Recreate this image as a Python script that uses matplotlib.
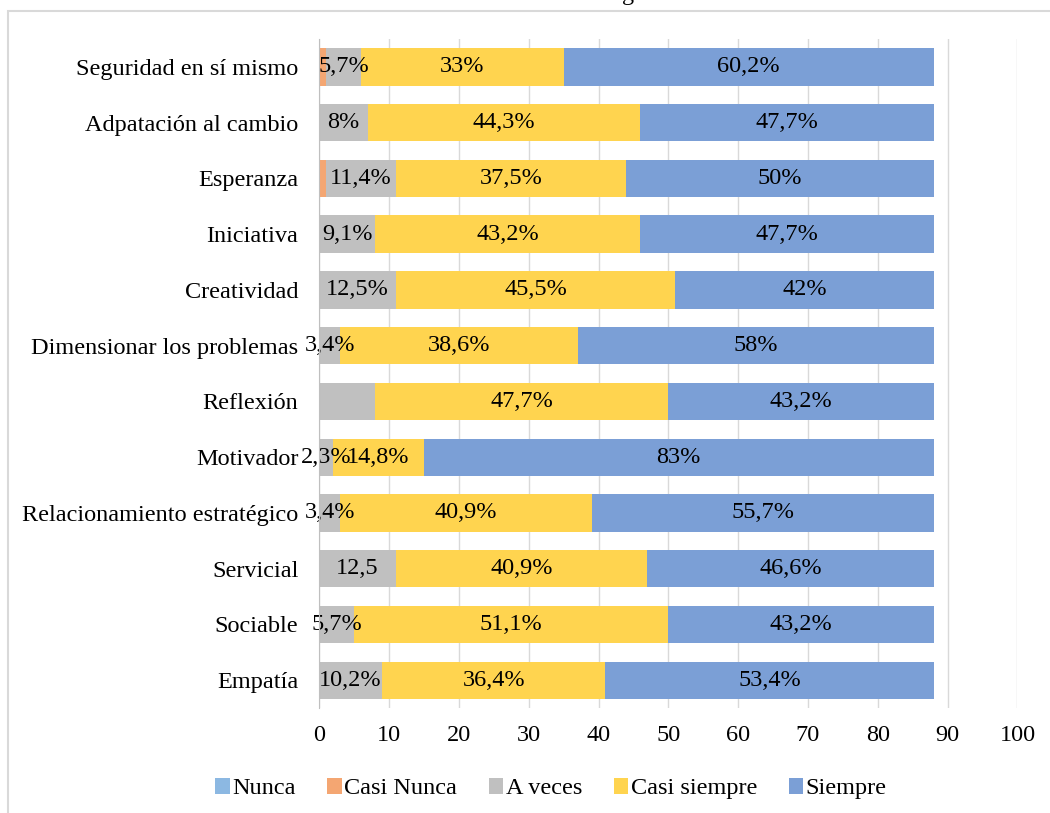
import numpy as np
import matplotlib.pyplot as plt
from matplotlib.patches import Rectangle

plt.rcParams['font.family'] = ['Liberation Serif', 'DejaVu Serif']

categories = ['Seguridad en sí mismo', 'Adpatación al cambio', 'Esperanza', 'Iniciativa',
              'Creatividad', 'Dimensionar los problemas', 'Reflexión', 'Motivador',
              'Relacionamiento estratégico', 'Servicial', 'Sociable', 'Empatía']
series = ['Nunca', 'Casi Nunca', 'A veces', 'Casi siempre', 'Siempre']

nunca = [0, 0, 0, 0, 0, 0, 0, 0, 0, 0, 0, 0]
casi_nunca = [1, 0, 1, 0, 0, 0, 0, 0, 0, 0, 0, 0]
a_veces = [5, 7, 10, 8, 11, 3, 8, 2, 3, 11, 5, 9]
casi_siempre = [29, 39, 33, 38, 40, 34, 42, 13, 36, 36, 45, 32]
siempre = [53, 42, 44, 42, 37, 51, 38, 73, 49, 41, 38, 47]

lbl_a_veces = ['5,7%', '8%', '11,4%', '9,1%', '12,5%', '3,4%', '', '2,3%', '3,4%', '12,5', '5,7%', '10,2%']
lbl_casi_siempre = ['33%', '44,3%', '37,5%', '43,2%', '45,5%', '38,6%', '47,7%', '14,8%', '40,9%', '40,9%', '51,1%', '36,4%']
lbl_siempre = ['60,2%', '47,7%', '50%', '47,7%', '42%', '58%', '43,2%', '83%', '55,7%', '46,6%', '43,2%', '53,4%']

colors = ['#8cb8e2', '#f4a672', '#c0c0c0', '#ffd44f', '#7b9fd6']
FS = 17.5

fig = plt.figure(figsize=(10.5, 8.13), dpi=100)
ax = fig.add_axes([0.304, 0.129, 0.665, 0.823])

# outer chart border
fig.patches.append(Rectangle((8 / 1050, -0.1), 1.2, 1 - 11 / 813 + 0.1, transform=fig.transFigure,
                             fill=False, edgecolor='#d9d9d9', linewidth=1.5))
# title cut off at the top edge (only the tail of the "g" is visible)
fig.text(628 / 1050, 1 - 5 / 813, 'g', ha='center', va='bottom', fontsize=FS)

y = np.arange(len(categories))
data = [nunca, casi_nunca, a_veces, casi_siempre, siempre]
labels = [None, None, lbl_a_veces, lbl_casi_siempre, lbl_siempre]
left = np.zeros(len(categories))
for name, vals, col, lbls in zip(series, data, colors, labels):
    vals = np.array(vals, dtype=float)
    ax.barh(y, vals, left=left, height=0.67, color=col, label=name, zorder=3)
    if lbls is not None:
        for yi, l, v, t in zip(y, left, vals, lbls):
            if t:
                ax.text(l + v / 2, yi, t, ha='center', va='center', fontsize=FS, zorder=4)
    left += vals

ax.set_xlim(0, 100)
ax.set_ylim(len(categories) - 0.5, -0.5)
ax.set_xticks(np.arange(0, 101, 10))
ax.set_yticks(y)
ax.set_yticklabels(categories)
ax.tick_params(axis='both', length=0, labelsize=FS)
ax.tick_params(axis='x', pad=12)
ax.tick_params(axis='y', pad=15)
ax.grid(axis='x', color='#d9d9d9', linewidth=1, zorder=0)
for s in ['top', 'right', 'bottom']:
    ax.spines[s].set_visible(False)
ax.spines['left'].set_color('#bfbfbf')
ax.spines['left'].set_zorder(5)

ax.legend(loc='upper center', bbox_to_anchor=(0.332, -0.072), ncol=5, frameon=False,
          fontsize=FS, handlelength=0.6, handleheight=0.6, handletextpad=0.1, columnspacing=1.3)

fig.savefig('out.png', dpi=100)
